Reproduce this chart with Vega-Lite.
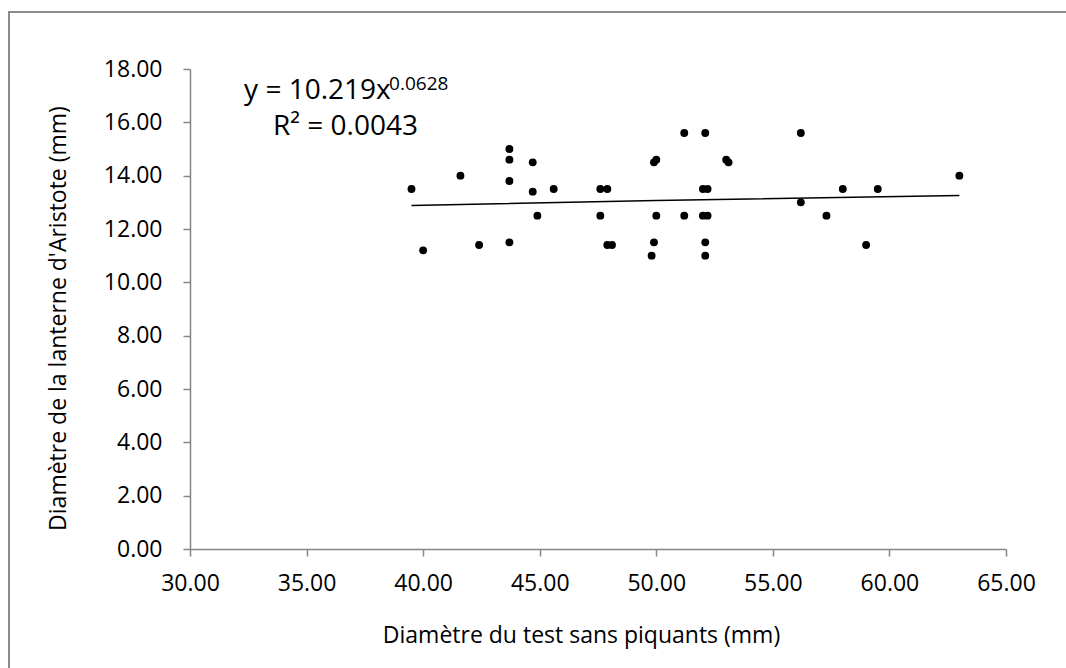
{
  "$schema": "https://vega.github.io/schema/vega-lite/v6.json",
  "width": 1063,
  "height": 662,
  "autosize": {"type": "none"},
  "padding": {"left": 9, "top": 12, "right": -6, "bottom": -6},
  "background": "white",
  "view": {"stroke": "#8c8c8c", "strokeWidth": 2},
  "config": {
    "font": "Open Sans",
    "axis": {
      "grid": false,
      "domainColor": "#868686",
      "domainWidth": 1.5,
      "tickColor": "#868686",
      "tickWidth": 1.5,
      "tickSize": 7,
      "labelColor": "black",
      "labelFontSize": 23,
      "labelFont": "Open Sans",
      "labelFlush": false,
      "labelOverlap": false,
      "titleColor": "black",
      "titleFontSize": 23,
      "titleFont": "Open Sans",
      "titleFontWeight": "normal"
    }
  },
  "datasets": {
    "urchins": [
      {"test": 39.5, "lantern": 13.5},
      {"test": 40.0, "lantern": 11.2},
      {"test": 41.6, "lantern": 14.0},
      {"test": 42.4, "lantern": 11.4},
      {"test": 43.7, "lantern": 15.0},
      {"test": 43.7, "lantern": 14.6},
      {"test": 43.7, "lantern": 13.8},
      {"test": 43.7, "lantern": 11.5},
      {"test": 44.7, "lantern": 14.5},
      {"test": 44.7, "lantern": 13.4},
      {"test": 44.9, "lantern": 12.5},
      {"test": 45.6, "lantern": 13.5},
      {"test": 47.6, "lantern": 13.5},
      {"test": 47.9, "lantern": 13.5},
      {"test": 47.6, "lantern": 12.5},
      {"test": 47.9, "lantern": 11.4},
      {"test": 48.1, "lantern": 11.4},
      {"test": 49.8, "lantern": 11.0},
      {"test": 49.9, "lantern": 11.5},
      {"test": 50.0, "lantern": 12.5},
      {"test": 49.9, "lantern": 14.5},
      {"test": 50.0, "lantern": 14.6},
      {"test": 51.2, "lantern": 15.6},
      {"test": 51.2, "lantern": 12.5},
      {"test": 52.1, "lantern": 15.6},
      {"test": 56.2, "lantern": 15.6},
      {"test": 53.0, "lantern": 14.6},
      {"test": 53.1, "lantern": 14.5},
      {"test": 52.0, "lantern": 13.5},
      {"test": 52.2, "lantern": 13.5},
      {"test": 58.0, "lantern": 13.5},
      {"test": 59.5, "lantern": 13.5},
      {"test": 63.0, "lantern": 14.0},
      {"test": 56.2, "lantern": 13.0},
      {"test": 52.0, "lantern": 12.5},
      {"test": 52.2, "lantern": 12.5},
      {"test": 57.3, "lantern": 12.5},
      {"test": 52.1, "lantern": 11.5},
      {"test": 52.1, "lantern": 11.0},
      {"test": 59.0, "lantern": 11.4}
    ],
    "trend": [
      {"test": 39.5, "lantern": 12.88},
      {"test": 50.0, "lantern": 13.07},
      {"test": 63.0, "lantern": 13.26}
    ]
  },
  "layer": [
    {
      "data": {"name": "urchins"},
      "mark": {"type": "point", "filled": true, "color": "black", "opacity": 1, "size": 62},
      "encoding": {
        "x": {
          "field": "test",
          "type": "quantitative",
          "scale": {"domain": [30, 65], "range": [181, 997], "nice": false, "zero": false},
          "axis": {
            "values": [30, 35, 40, 45, 50, 55, 60, 65],
            "format": ".2f",
            "offset": -125,
            "labelPadding": 16,
            "title": "Diamètre du test sans piquants (mm)",
            "titleX": 572,
            "titleY": 93,
            "titleBaseline": "alphabetic",
            "titleAlign": "center"
          }
        },
        "y": {
          "field": "lantern",
          "type": "quantitative",
          "scale": {"domain": [0, 18], "range": [537, 57], "nice": false, "zero": false},
          "axis": {
            "values": [0, 2, 4, 6, 8, 10, 12, 14, 16, 18],
            "format": ".2f",
            "offset": -181,
            "labelPadding": 21,
            "title": "Diamètre de la lanterne d'Aristote (mm)",
            "titleX": -125,
            "titleY": 306,
            "titleAngle": -90,
            "titleBaseline": "alphabetic",
            "titleAlign": "center"
          }
        }
      }
    },
    {
      "data": {"name": "trend"},
      "mark": {"type": "line", "color": "black", "strokeWidth": 1.5},
      "encoding": {
        "x": {"field": "test", "type": "quantitative"},
        "y": {"field": "lantern", "type": "quantitative"}
      }
    },
    {
      "data": {"values": [{"label": "y = 10.219x"}]},
      "mark": {"type": "text", "align": "left", "baseline": "alphabetic", "fontSize": 28, "font": "Open Sans", "color": "black"},
      "encoding": {
        "x": {"datum": 32.32, "type": "quantitative"},
        "y": {"datum": 16.87, "type": "quantitative"},
        "text": {"field": "label"}
      }
    },
    {
      "data": {"values": [{"label": "0.0628"}]},
      "mark": {"type": "text", "align": "left", "baseline": "alphabetic", "fontSize": 19, "font": "Open Sans", "color": "black"},
      "encoding": {
        "x": {"datum": 38.54, "type": "quantitative"},
        "y": {"datum": 17.22, "type": "quantitative"},
        "text": {"field": "label"}
      }
    },
    {
      "data": {"values": [{"label": "R² = 0.0043"}]},
      "mark": {"type": "text", "align": "left", "baseline": "alphabetic", "fontSize": 28, "font": "Open Sans", "color": "black"},
      "encoding": {
        "x": {"datum": 33.56, "type": "quantitative"},
        "y": {"datum": 15.53, "type": "quantitative"},
        "text": {"field": "label"}
      }
    }
  ]
}
